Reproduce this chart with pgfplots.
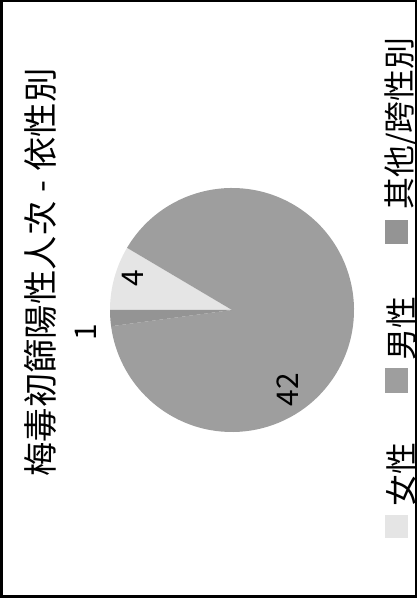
\documentclass[border=0pt]{standalone}
\usepackage{fontspec}
\setmainfont{Noto Sans CJK TC}
\usepackage{pgfplots}
\pgfplotsset{compat=1.18}

% pie values: female, male, other
\def\vF{4}
\def\vM{42}
\def\vO{1}

\definecolor{cF}{gray}{0.90}
\definecolor{cM}{gray}{0.62}
\definecolor{cO}{gray}{0.58}

\begin{document}
\begin{tikzpicture}
\pgfmathsetmacro{\tot}{\vF+\vM+\vO}
\pgfmathsetmacro{\aA}{180}
\pgfmathsetmacro{\aB}{\aA-360*\vF/\tot}
\pgfmathsetmacro{\aC}{\aB-360*\vM/\tot}
\pgfmathsetmacro{\aD}{\aC-360*\vO/\tot}
\begin{axis}[
  scale only axis,
  width=417bp, height=598bp,
  xmin=0, xmax=417, ymin=0, ymax=598,
  enlargelimits=false,
  hide axis, clip=false,
]
% slices (chart turned 90 degrees)
\fill[cF] (axis cs:232,288) -- ++(\aA:122bp) arc[start angle=\aA, end angle=\aB, radius=122bp] -- cycle;
\fill[cM] (axis cs:232,288) -- ++(\aB:122bp) arc[start angle=\aB, end angle=\aC, radius=122bp] -- cycle;
\fill[cO] (axis cs:232,288) -- ++(\aC:122bp) arc[start angle=\aC, end angle=\aD, radius=122bp] -- cycle;

% data labels
\node[rotate=90, font=\fontsize{30}{34}\selectfont, inner sep=0] at (axis cs:133,320) {4};
\node[rotate=90, font=\fontsize{30}{34}\selectfont, inner sep=0] at (axis cs:288,208) {42};
\node[rotate=90, font=\fontsize{30}{34}\selectfont, inner sep=0] at (axis cs:86,266) {1};

% title
\node[rotate=90, font=\fontsize{34.5}{38}\selectfont, inner sep=0] at (axis cs:40,325.5) {梅毒初篩陽性人次\kern9bp-\kern9bp依性別};

% legend
\fill[cF] (axis cs:385,60) rectangle (axis cs:408,83);
\node[rotate=90, font=\fontsize{32}{34}\selectfont, inner sep=0] at (axis cs:401,123) {女性};
\fill[cM] (axis cs:385,205) rectangle (axis cs:408,230);
\node[rotate=90, font=\fontsize{32}{34}\selectfont, inner sep=0] at (axis cs:401,269) {男性};
\fill[cO] (axis cs:385,354) rectangle (axis cs:408,378);
\node[rotate=90, font=\fontsize{32}{34}\selectfont, inner sep=0] at (axis cs:401,474.5) {其他/跨性別};

% chart border
\draw[line width=2.5bp] (axis cs:1.25,1.25) rectangle (axis cs:415.75,596.75);
\end{axis}
\end{tikzpicture}
\end{document}
